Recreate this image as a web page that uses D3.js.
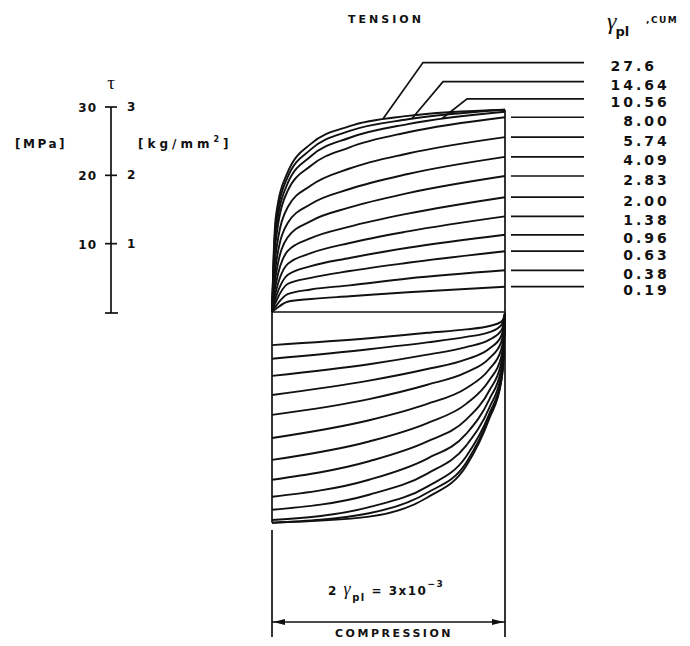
<!DOCTYPE html>
<meta charset="utf-8">
<script src="https://d3js.org/d3.v7.min.js"></script>
<style>
body { margin: 0; background: #fff; }
svg text { font-family: "DejaVu Sans", sans-serif; font-weight: bold; fill: #111; }
.curve { fill: none; stroke: #111; stroke-width: 1.9px; }
.frame { fill: none; stroke: #111; stroke-width: 1.7px; }
</style>
<div id="chart"></div>
<script>

// cumulative plastic shear strain of each loop (labels on the right)
var gammaCum = ["27.6", "14.64", "10.56", "8.00", "5.74", "4.09", "2.83", "2.00", "1.38", "0.96", "0.63", "0.38", "0.19"];

var upperStrain = [0, 0.02, 0.05, 0.2, 0.5, 1.0, 1.75, 3.0];
var lowerStrain = [3, 2.98, 2.95, 2.8, 2.5, 2.0, 1.25, 0];

// tension branches, tau [MPa], one row per loop
var upperTau = [
  [0, 8.0, 14.0, 20.4, 24.6, 27.2, 28.7, 29.6],
  [0, 7.2, 13.0, 19.7, 23.8, 26.5, 28.2, 29.6],
  [0, 6.5, 11.8, 18.8, 22.8, 25.5, 27.5, 29.3],
  [0, 5.8, 10.5, 17.7, 21.4, 24.1, 26.3, 28.5],
  [0, 4.6, 8.6, 15.3, 18.5, 21.0, 23.2, 25.6],
  [0, 3.7, 6.9, 13.0, 15.8, 18.0, 20.2, 22.7],
  [0, 2.8, 5.4, 10.9, 13.3, 15.3, 17.4, 19.9],
  [0, 2.1, 4.1, 8.9, 10.8, 12.5, 14.4, 16.8],
  [0, 1.5, 3.0, 7.0, 8.6, 10.1, 11.8, 14.0],
  [0, 1.05, 2.15, 5.4, 6.7, 7.9, 9.4, 11.3],
  [0, 0.7, 1.5, 4.1, 5.0, 6.0, 7.2, 8.9],
  [0, 0.4, 0.87, 2.6, 3.3, 3.9, 4.9, 6.1],
  [0, 0.2, 0.45, 1.5, 1.9, 2.3, 2.9, 3.7]
];

// compression branches, |tau| [MPa], measured downwards
var lowerTau = [
  [0, 6.8, 10.1, 15.4, 22.4, 27.0, 29.8, 30.7],
  [0, 6.6, 10.0, 15.1, 21.9, 26.3, 29.3, 30.7],
  [0, 6.4, 9.7, 14.7, 21.0, 25.4, 28.4, 30.3],
  [0, 5.9, 9.1, 13.8, 19.4, 23.5, 26.6, 28.8],
  [0, 5.4, 8.3, 12.6, 17.7, 21.3, 24.4, 26.9],
  [0, 4.8, 7.4, 11.3, 15.6, 18.8, 21.7, 24.4],
  [0, 4.1, 6.5, 9.8, 13.3, 16.1, 18.8, 21.5],
  [0, 3.4, 5.4, 8.2, 11.0, 13.3, 15.7, 18.3],
  [0, 2.7, 4.3, 6.6, 8.7, 10.5, 12.6, 14.9],
  [0, 2.1, 3.4, 5.2, 6.8, 8.2, 9.9, 12.0],
  [0, 1.6, 2.6, 3.9, 5.0, 6.1, 7.5, 9.2],
  [0, 1.1, 1.8, 2.8, 3.5, 4.3, 5.3, 6.7],
  [0, 0.8, 1.3, 1.9, 2.4, 2.9, 3.7, 4.7]
];

// leaders of the three largest loops: point on curve (strain), knee (strain), row (tau)
var leaderStrain = [1.43, 1.80, 2.19];
var leaderKnee = [1.944, 2.202, 2.511];
var leaderRow = [36.5, 33.7, 31.2];

// stress scale on the left
var tauTicks = [10, 20, 30];
var kgTicks = ["1", "2", "3"];

var svg = d3.select("#chart")
  .append("svg")
    .attr("width", 690)
    .attr("height", 646);

var x = d3.scaleLinear().domain([0, 3]).range([272, 505]);
var yT = d3.scaleLinear().domain([0, 30]).range([312, 107]);
var yC = d3.scaleLinear().domain([0, 30]).range([313, 518]);

var lineT = d3.line().x(function(d) { return x(d[0]); }).y(function(d) { return yT(d[1]); }).curve(d3.curveMonotoneX);
var lineC = d3.line().x(function(d) { return x(d[0]); }).y(function(d) { return yC(d[1]); }).curve(d3.curveMonotoneX);

// frame
var xL = x(0), xR = x(3);
svg.append("line").attr("class", "frame")
  .attr("x1", xL).attr("x2", xR).attr("y1", yT(0)).attr("y2", yT(0));
svg.append("line").attr("class", "frame")
  .attr("x1", xR).attr("x2", xR).attr("y1", yT(upperTau[0][7])).attr("y2", 637);
svg.append("line").attr("class", "frame")
  .attr("x1", xL).attr("x2", xL).attr("y1", yT(0)).attr("y2", yC(lowerTau[0][7]));
svg.append("line").attr("class", "frame")
  .attr("x1", xL).attr("x2", xL).attr("y1", 530).attr("y2", 637);

// tension branches
var upperPaths = svg.append("g").selectAll("path")
  .data(upperTau)
  .enter()
  .append("path")
    .attr("class", "curve")
    .attr("d", function(row) {
      return lineT(row.map(function(v, i) { return [upperStrain[i], v]; }));
    });

// compression branches
svg.append("g").selectAll("path")
  .data(lowerTau)
  .enter()
  .append("path")
    .attr("class", "curve")
    .attr("d", function(row) {
      var pts = row.map(function(v, i) { return [lowerStrain[i], v]; });
      pts.sort(function(a, b) { return a[0] - b[0]; });
      return lineC(pts);
    });

// point on a drawn path at a given x
function pointAtX(node, px) {
  var lo = 0, hi = node.getTotalLength();
  for (var k = 0; k < 40; k++) {
    var mid = (lo + hi) / 2;
    if (node.getPointAtLength(mid).x < px) lo = mid; else hi = mid;
  }
  return node.getPointAtLength((lo + hi) / 2);
}

// leader lines and labels
var lineEnd = 584, decimalX = 636;
var labels = svg.append("g");
gammaCum.forEach(function(lab, k) {
  var rowY;
  if (k < 3) {
    var p = pointAtX(upperPaths.nodes()[k], x(leaderStrain[k]));
    rowY = yT(leaderRow[k]);
    svg.append("polyline").attr("class", "frame")
      .attr("points", [[p.x, p.y], [x(leaderKnee[k]), rowY], [lineEnd, rowY]].join(" "));
  } else {
    rowY = yT(upperTau[k][7]);
    svg.append("line").attr("class", "frame")
      .attr("x1", xR + 6).attr("x2", lineEnd).attr("y1", rowY).attr("y2", rowY);
  }
  var t = labels.append("text")
    .attr("y", rowY + 8.5)
    .style("font-size", "14px")
    .style("letter-spacing", "3px")
    .text(lab);
  var w = t.node().getSubStringLength(0, lab.indexOf("."));
  t.attr("x", decimalX - w);
});

// header
svg.append("text").attr("x", 386).attr("y", 23).attr("text-anchor", "middle")
  .style("font-size", "11px").style("letter-spacing", "3px").text("TENSION");
var hdr = svg.append("text").attr("x", 607).attr("y", 29);
hdr.append("tspan").style("font-family", "Liberation Serif, serif").style("font-style", "italic")
  .style("font-weight", "normal").style("font-size", "24px").text("γ");
hdr.append("tspan").attr("dy", 7).attr("dx", -1).style("font-size", "13px").text("pl");
svg.append("text").attr("x", 646).attr("y", 23)
  .style("font-size", "9px").style("letter-spacing", "1.5px").text(",CUM");

// stress axis
var ax = 111;
var axis = svg.append("g");
axis.append("line").attr("class", "frame")
  .attr("x1", ax).attr("x2", ax).attr("y1", yT(30)).attr("y2", yT(0) + 1);
axis.append("line").attr("class", "frame")
  .attr("x1", ax - 6).attr("x2", ax + 7).attr("y1", yT(0) + 1).attr("y2", yT(0) + 1);
tauTicks.forEach(function(v, i) {
  axis.append("line").attr("class", "frame")
    .attr("x1", ax - 6).attr("x2", ax + 6).attr("y1", yT(v)).attr("y2", yT(v));
  axis.append("text").attr("x", 97).attr("y", yT(v) + 5).attr("text-anchor", "end")
    .style("font-size", "12px").style("letter-spacing", "1px").text(v);
  axis.append("text").attr("x", 127).attr("y", yT(v) + 4)
    .style("font-size", "12px").text(kgTicks[i]);
});
axis.append("text").attr("x", ax).attr("y", 89).attr("text-anchor", "middle")
  .style("font-family", "Liberation Serif, serif").style("font-weight", "normal")
  .style("font-size", "19px").text("τ");
axis.append("text").attr("x", 15).attr("y", 148)
  .style("font-size", "12px").style("letter-spacing", "2.5px").text("[MPa]");
var kg = axis.append("text").attr("x", 138).attr("y", 148)
  .style("font-size", "12px").style("letter-spacing", "4px");
kg.append("tspan").text("[kg/mm");
kg.append("tspan").attr("dy", -6).style("font-size", "8px").text("2");
kg.append("tspan").attr("dy", 6).text("]");

// strain range dimension
var dimY = 622;
svg.append("line").attr("class", "frame")
  .attr("x1", xL).attr("x2", xR).attr("y1", dimY).attr("y2", dimY);
svg.append("path").attr("fill", "#111")
  .attr("d", "M" + (xL + 1) + "," + dimY + "l12,-3l0,6z");
svg.append("path").attr("fill", "#111")
  .attr("d", "M" + (xR - 1) + "," + dimY + "l-12,-3l0,6z");
var dim = svg.append("text").attr("x", 328).attr("y", 595)
  .style("font-size", "12px").style("letter-spacing", "1.5px");
dim.append("tspan").text("2 ");
dim.append("tspan").style("font-family", "Liberation Serif, serif").style("font-style", "italic")
  .style("font-weight", "normal").style("font-size", "18px").text("γ");
dim.append("tspan").attr("dy", 6).style("font-size", "10px").text("pl");
dim.append("tspan").attr("dy", -6).text(" = 3x10");
dim.append("tspan").attr("dy", -8).style("font-size", "9px").text("−3");
svg.append("text").attr("x", 394).attr("y", 637).attr("text-anchor", "middle")
  .style("font-size", "11px").style("letter-spacing", "2.5px").text("COMPRESSION");

</script>
